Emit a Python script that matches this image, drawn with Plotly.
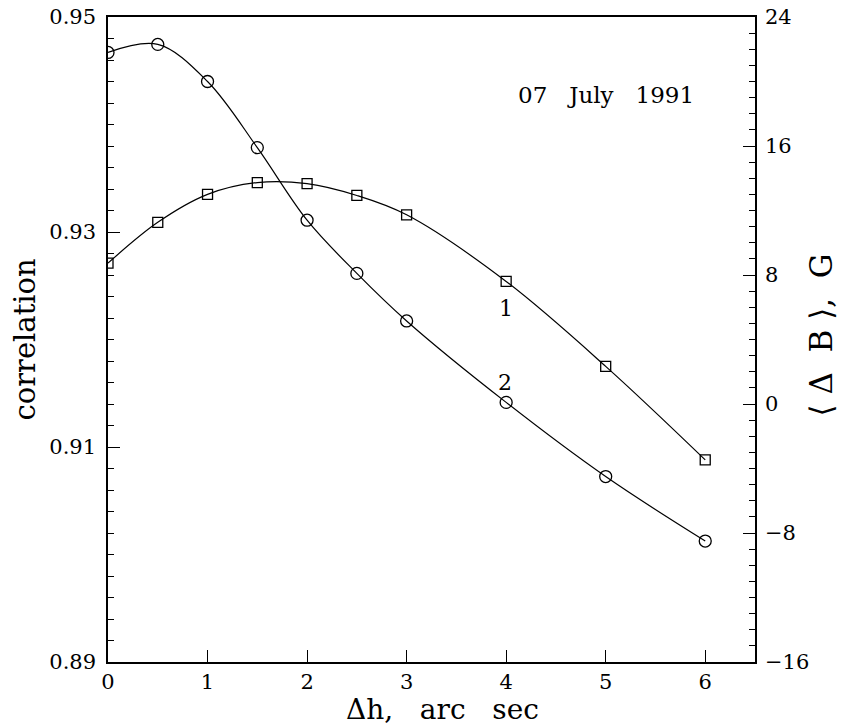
import plotly.graph_objects as go

dh = [0, 0.5, 1, 1.5, 2, 2.5, 3, 4, 5, 6]
corr_sq = [0.9271, 0.9309, 0.9335, 0.9346, 0.9345, 0.9334, 0.9316, 0.9254, 0.9175, 0.9088]
db_circ = [21.8, 22.3, 20.0, 15.9, 11.4, 8.1, 5.15, 0.1, -4.5, -8.5]

x_ticks = [0, 1, 2, 3, 4, 5, 6]
y_ticks = [0.89, 0.91, 0.93, 0.95]
y_ticklabels = ["0.89", "0.91", "0.93", "0.95"]
y2_ticks = [-16, -8, 0, 8, 16, 24]
y2_ticklabels = ["−16", "−8", "0", "8", "16", "24"]

FONT = "DejaVu Serif"

fig = go.Figure()
fig.add_trace(go.Scatter(
    x=dh, y=corr_sq, mode="lines+markers", line=dict(color="black", width=1.2, shape="spline", smoothing=1.0),
    marker=dict(symbol="square-open", size=10, color="black", line=dict(width=1.3)),
    showlegend=False, yaxis="y"))
fig.add_trace(go.Scatter(
    x=dh, y=db_circ, mode="lines+markers", line=dict(color="black", width=1.2, shape="spline", smoothing=1.0),
    marker=dict(symbol="circle-open", size=12, color="black", line=dict(width=1.3)),
    showlegend=False, yaxis="y2"))

fig.update_layout(
    width=842, height=727,
    margin=dict(l=108, r=87, t=17, b=65),
    paper_bgcolor="white", plot_bgcolor="white",
    font=dict(family=FONT, color="black", size=21),
    xaxis=dict(range=[0, 6.5], tickvals=x_ticks, ticks="inside", ticklen=12,
               tickwidth=1.3, tickcolor="black", showline=True, linecolor="black", linewidth=1.5,
               mirror=True, showgrid=False, zeroline=False, tickfont=dict(size=21),
               automargin=False, ticklabeloverflow="allow"),
    yaxis=dict(range=[0.89, 0.95], tickvals=y_ticks, ticktext=y_ticklabels,
               ticks="inside", ticklen=12, tickwidth=1.3, tickcolor="black",
               minor=dict(dtick=0.002, tick0=0.89, ticks="inside", ticklen=6, tickcolor="black", tickwidth=1.2),
               showline=True, linecolor="black", linewidth=1.5, showgrid=False, zeroline=False,
               tickfont=dict(size=21), ticklabelstandoff=6, automargin=False, ticklabeloverflow="allow"),
    yaxis2=dict(range=[-16, 24], tickvals=y2_ticks, ticktext=y2_ticklabels,
                overlaying="y", side="right", ticks="inside", ticklen=12, tickwidth=1.3, tickcolor="black",
                minor=dict(dtick=1, tick0=-16, ticks="inside", ticklen=6, tickcolor="black", tickwidth=1.2),
                showline=True, linecolor="black", linewidth=1.5, showgrid=False, zeroline=False,
                tickfont=dict(size=21), ticklabelstandoff=4, automargin=False, ticklabeloverflow="allow"),
    annotations=[
        dict(x=0, y=0.5, xref="paper", yref="paper", text="correlation", textangle=-90, showarrow=False,
             xanchor="center", yanchor="middle", xshift=-84, font=dict(size=29, family=FONT)),
        dict(x=1, y=0.5, xref="paper", yref="paper", text="⟨ Δ  B ⟩,  G", textangle=-90, showarrow=False,
             xanchor="center", yanchor="middle", xshift=65, yshift=4, font=dict(size=31, family=FONT)),
        dict(x=3.36, y=0, xref="x", yref="paper", text="Δh,   arc   sec", showarrow=False,
             xanchor="center", yanchor="middle", yshift=-47, font=dict(size=28, family=FONT)),
        dict(x=5.0, y=0.9427, xref="x", yref="y", text="07   July   1991", showarrow=False,
             font=dict(size=23, family=FONT)),
        dict(x=4.0, y=0.9229, xref="x", yref="y", text="1", showarrow=False, font=dict(size=22, family=FONT)),
        dict(x=3.99, y=0.9160, xref="x", yref="y", text="2", showarrow=False, font=dict(size=22, family=FONT)),
    ],
)

fig.write_html("out.html", config={"displayModeBar": False},
               post_script="document.body.style.margin='0';document.body.style.overflow='hidden';")
